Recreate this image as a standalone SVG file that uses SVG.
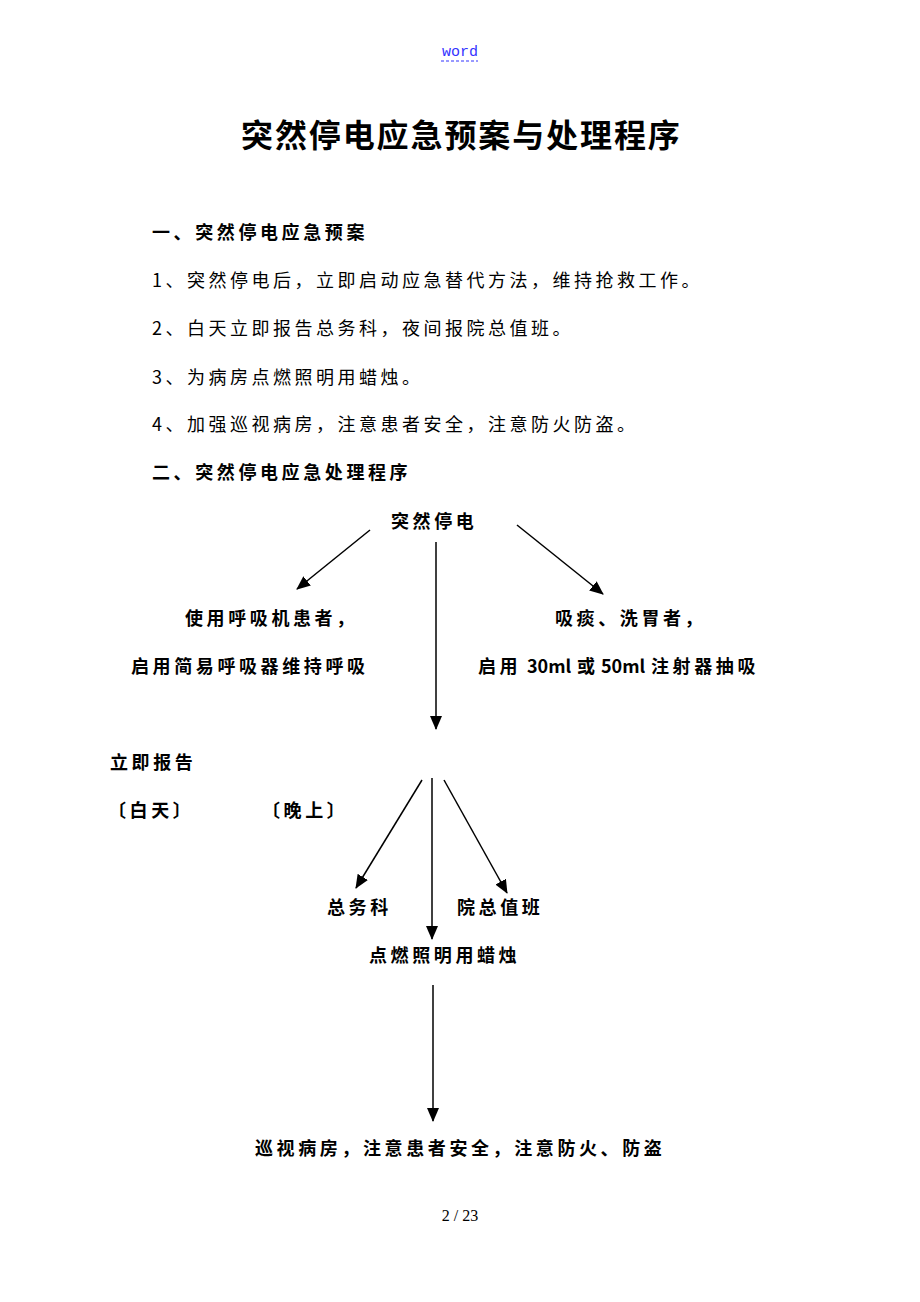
<svg xmlns="http://www.w3.org/2000/svg" width="920" height="1302" viewBox="0 0 920 1302">
<style>
.t{font-family:"Noto Sans CJK SC","Liberation Sans",sans-serif;fill:#000}
.title{font-size:32px;font-weight:bold;letter-spacing:1.9px}
.h{font-size:18px;font-weight:bold;letter-spacing:3.6px}
.b{font-size:18px;letter-spacing:3.5px}
.f{font-size:18px;font-weight:bold;letter-spacing:3.6px}
.a{letter-spacing:0}
.c line{stroke:#000;stroke-width:1.5;marker-end:url(#ah)}
</style>
<defs>
<marker id="ah" markerUnits="userSpaceOnUse" markerWidth="14" markerHeight="12" refX="13" refY="6" orient="auto">
<path d="M0,0 L14,6 L0,12 Z" fill="#000"/>
</marker>
</defs>
<rect width="920" height="1302" fill="#fff"/>
<g id="header">
<text x="460" y="56" text-anchor="middle" font-family="Liberation Mono,monospace" font-size="15" fill="#3333ff">word</text>
<line x1="441" y1="61" x2="478" y2="61" stroke="#3333ff" stroke-width="1" stroke-dasharray="3,2"/>
</g>
<g id="title"><text class="t title" x="241" y="147">突然停电应急预案与处理程序</text></g>
<g id="plan">
<text class="t h" x="152" y="239">一、突然停电应急预案</text>
<text class="t b" x="152" y="287">1、突然停电后，立即启动应急替代方法，维持抢救工作。</text>
<text class="t b" x="152" y="335">2、白天立即报告总务科，夜间报院总值班。</text>
<text class="t b" x="152" y="384">3、为病房点燃照明用蜡烛。</text>
<text class="t b" x="152" y="431">4、加强巡视病房，注意患者安全，注意防火防盗。</text>
<text class="t h" x="152" y="479">二、突然停电应急处理程序</text>
</g>
<g id="n-start"><text class="t f" x="391" y="528">突然停电</text></g>
<g id="n-vent"><text class="t f" x="185" y="625">使用呼吸机患者，</text><text class="t f" x="131" y="673">启用简易呼吸器维持呼吸</text></g>
<g id="n-suction"><text class="t f" x="555" y="625">吸痰、洗胃者，</text><text class="t f" y="673"><tspan x="478">启用</tspan><tspan class="a" x="527">30ml</tspan><tspan x="577">或</tspan><tspan class="a" x="601">50ml</tspan><tspan x="651">注射器抽吸</tspan></text></g>
<g id="n-report"><text class="t f" x="110" y="769">立即报告</text></g>
<g id="n-day"><text class="t f" x="108" y="817">〔白天〕</text></g>
<g id="n-night"><text class="t f" x="262" y="817">〔晚上〕</text></g>
<g id="n-general"><text class="t f" x="327" y="914">总务科</text></g>
<g id="n-duty"><text class="t f" x="457" y="914">院总值班</text></g>
<g id="n-candle"><text class="t f" x="369" y="962">点燃照明用蜡烛</text></g>
<g id="n-patrol"><text class="t f" x="255" y="1155">巡视病房，注意患者安全，注意防火、防盗</text></g>
<g id="connectors" class="c">
<line x1="370" y1="530" x2="297" y2="589"/>
<line x1="517" y1="525" x2="603" y2="594"/>
<line x1="436" y1="542" x2="436" y2="729"/>
<line x1="422" y1="780" x2="356" y2="888"/>
<line x1="432" y1="778" x2="432" y2="939"/>
<line x1="444" y1="780" x2="507" y2="893"/>
<line x1="433" y1="985" x2="433" y2="1121"/>
</g>
<g id="footer"><text x="460" y="1221" text-anchor="middle" font-family="Liberation Serif,serif" font-size="16" fill="#000">2 / 23</text></g>
</svg>
